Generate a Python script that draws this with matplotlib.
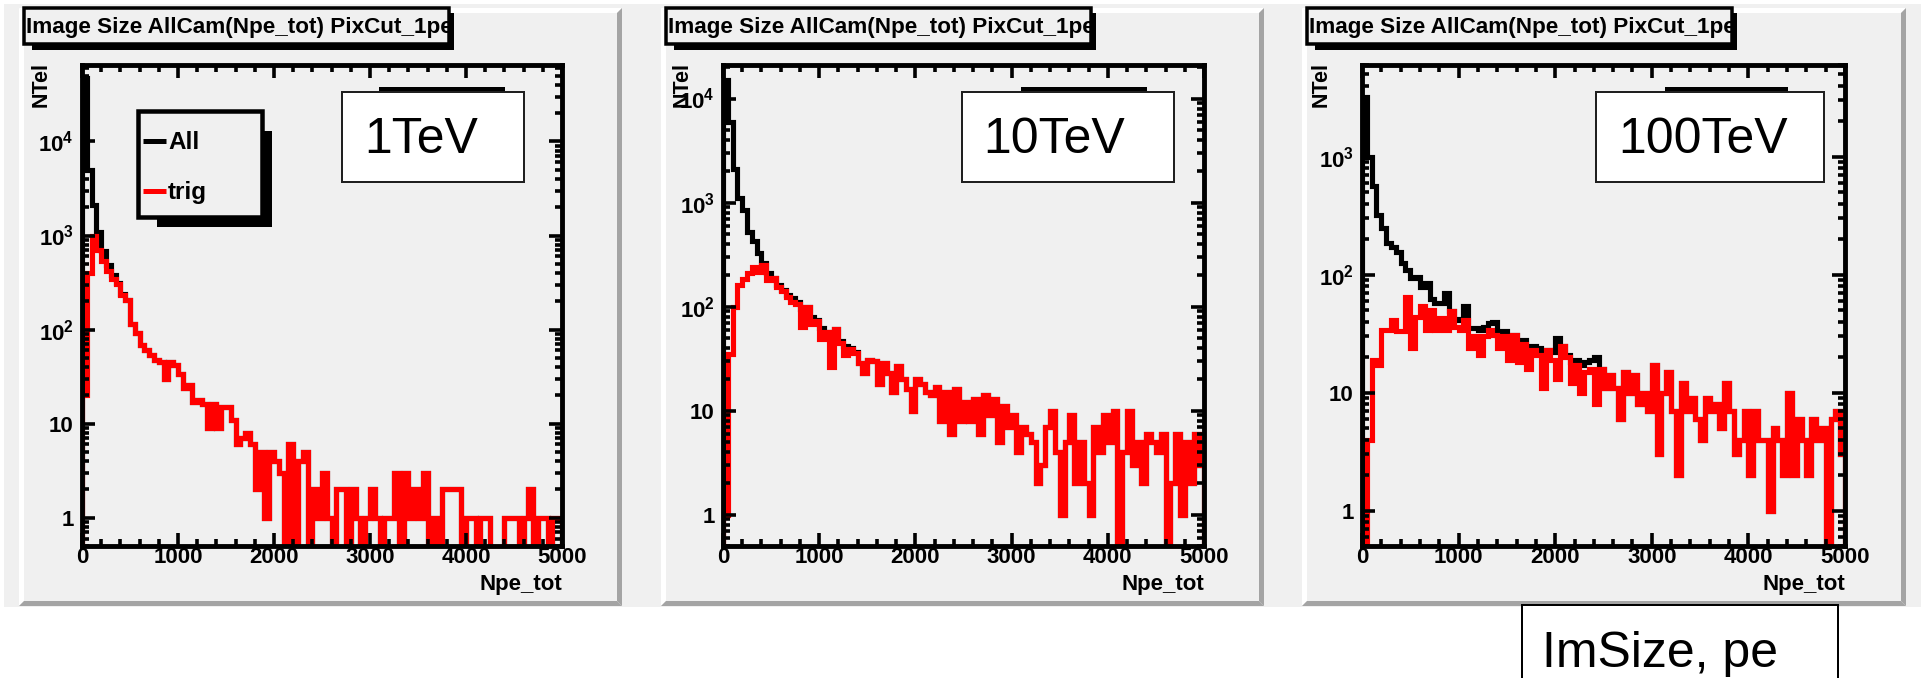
import numpy as np
import matplotlib
matplotlib.use('Agg')
import matplotlib.pyplot as plt
from matplotlib.patches import Rectangle, Polygon
from matplotlib.ticker import MultipleLocator, LogLocator, NullFormatter

plt.rcParams['font.family'] = ['Liberation Sans', 'DejaVu Sans']
plt.rcParams['mathtext.fontset'] = 'custom'
plt.rcParams['mathtext.rm'] = 'Liberation Sans:bold'
plt.rcParams['mathtext.it'] = 'Liberation Sans:bold'
plt.rcParams['mathtext.bf'] = 'Liberation Sans:bold'

# histogram binning: 100 bins of 50 pe from 0 to 5000
bin_edges = np.arange(0, 5001, 50)

title = 'Image Size AllCam(Npe_tot) PixCut_1pe'
energy_labels = ['1TeV', '10TeV', '100TeV']
legend_labels = ['All', 'trig']
x_ticks = [0, 1000, 2000, 3000, 4000, 5000]
y_ticks = [[1, 10, 100, 1000, 10000], [1, 10, 100, 1000, 10000], [1, 10, 100, 1000]]
y_tick_labels = ['1', '10', r'$\mathregular{10^{2}}$', r'$\mathregular{10^{3}}$', r'$\mathregular{10^{4}}$']
y_ranges = [(0.5, 6.5e4), (0.5, 2.1e4), (0.5, 6.0e3)]

# 1 TeV
all_1tev = [47000, 5000, 2100, 1100, 680, 480, 380, 310, 240, 205,
            115, 92, 68, 60, 54, 48, 45, 30, 45, 42,
            34, 24, 26, 17, 18, 16, 9, 16, 9, 15,
            15, 11, 6, 7, 8, 6, 2, 5, 1, 5,
            4, 3, 0, 6, 0, 4, 5, 0, 2, 1,
            3, 1, 0, 2, 2, 0, 2, 1, 0, 1,
            2, 1, 0, 1, 1, 3, 0, 3, 1, 2,
            1, 3, 0, 1, 0, 2, 2, 2, 2, 0,
            1, 1, 0, 1, 1, 0, 0, 0, 1, 1,
            1, 0, 1, 2, 0, 1, 1, 0, 1, 1]
trig_1tev = [20, 400, 1000, 700, 540, 420, 345, 305, 235, 205,
             115, 92, 68, 60, 54, 48, 45, 30, 45, 42,
             34, 24, 26, 17, 18, 16, 9, 16, 9, 15,
             15, 11, 6, 7, 8, 6, 2, 5, 1, 5,
             4, 3, 0, 6, 0, 4, 5, 0, 2, 1,
             3, 1, 0, 2, 2, 0, 2, 1, 0, 1,
             2, 1, 0, 1, 1, 3, 0, 3, 1, 2,
             1, 3, 0, 1, 0, 2, 2, 2, 2, 0,
             1, 1, 0, 1, 1, 0, 0, 0, 1, 1,
             1, 0, 1, 2, 0, 1, 1, 0, 1, 1]

# 10 TeV
all_10tev = [15000, 6000, 2100, 1100, 850, 520, 430, 330, 265, 210,
             190, 160, 145, 130, 120, 110, 95, 100, 80, 75,
             62, 57, 52, 61, 47, 42, 40, 37, 29, 23,
             31, 30, 18, 29, 23, 15, 27, 20, 16, 10,
             20, 18, 15, 14, 17, 8, 15, 6, 16, 8,
             12, 8, 13, 6, 14, 9, 13, 5, 11, 7,
             9, 4, 7, 6, 5, 2, 3, 7, 10, 4,
             1, 5, 9, 2, 5, 2, 1, 7, 4, 9,
             5, 10, 0, 4, 10, 3, 5, 2, 6, 5,
             4, 6, 0, 2, 6, 1, 5, 2, 6, 3]
trig_10tev = [1, 35, 100, 160, 185, 210, 240, 215, 250, 180,
              190, 155, 140, 125, 110, 105, 64, 100, 68, 72,
              49, 57, 26, 61, 45, 34, 39, 36, 29, 23,
              31, 30, 18, 29, 23, 15, 27, 20, 16, 10,
              20, 18, 15, 14, 17, 8, 15, 6, 16, 8,
              12, 8, 13, 6, 14, 9, 13, 5, 11, 7,
              9, 4, 7, 6, 5, 2, 3, 7, 10, 4,
              1, 5, 9, 2, 5, 2, 1, 7, 4, 9,
              5, 10, 0, 4, 10, 3, 5, 2, 6, 5,
              4, 6, 0, 2, 6, 1, 5, 2, 6, 3]

# 100 TeV
all_100tev = [3200, 1000, 560, 320, 250, 185, 170, 155, 125, 110,
              93, 95, 78, 85, 62, 58, 57, 70, 49, 42,
              41, 54, 35, 35, 34, 36, 39, 40, 30, 33,
              28, 31, 27, 28, 24, 25, 24, 22, 23, 22,
              29, 25, 21, 18, 19, 17, 18, 19, 20, 16,
              11, 14, 11, 6, 15, 10, 14, 8, 10, 7,
              17, 3, 10, 15, 7, 2, 12, 7, 9, 6,
              4, 9, 7, 8, 5, 12, 7, 3, 4, 7,
              2, 7, 4, 4, 1, 5, 4, 2, 10, 2,
              6, 4, 2, 6, 4, 5, 0, 6, 7, 3]
trig_100tev = [0, 4, 19, 17, 34, 34, 41, 33, 33, 65,
               24, 44, 54, 34, 50, 34, 43, 34, 49, 36,
               34, 41, 24, 30, 21, 30, 34, 31, 24, 30,
               19, 31, 18, 26, 16, 23, 21, 11, 23, 19,
               13, 25, 20, 12, 17, 10, 15, 16, 8, 16,
               11, 14, 11, 6, 15, 10, 14, 8, 10, 7,
               17, 3, 10, 15, 7, 2, 12, 7, 9, 6,
               4, 9, 7, 8, 5, 12, 7, 3, 4, 7,
               2, 7, 4, 4, 1, 5, 4, 2, 10, 2,
               6, 4, 2, 6, 4, 5, 0, 6, 7, 3]

all_series = [all_1tev, all_10tev, all_100tev]
trig_series = [trig_1tev, trig_10tev, trig_100tev]

# ---- layout (pixels) ----
W, H = 1925, 678
PT = 0.72  # points per pixel at dpi 100
PAD_GRAY = '#f0f0f0'
pads = [(19, 8, 622, 606), (661, 8, 1264, 606), (1302, 8, 1906, 606)]
frames = [(82, 65, 562, 546), (723, 65, 1204, 546), (1362, 65, 1845, 546)]
eboxes = [(342, 92, 524, 182, 364), (962, 92, 1174, 182, 983), (1596, 92, 1824, 182, 1618)]
ebars = [(379, 505), (1021, 1147), (1665, 1788)]

fig = plt.figure(figsize=(W / 100, H / 100), dpi=100)
fig.patch.set_facecolor('white')

# background canvas and pads with ROOT-like bevels
bg = fig.add_axes([0, 0, 1, 1], zorder=0)
bg.set_xlim(0, W)
bg.set_ylim(H, 0)
bg.axis('off')
bg.add_patch(Rectangle((4, 4), 1917, 603, fc=PAD_GRAY, ec='none'))
b = 5
for x0, y0, x1, y1 in pads:
    bg.add_patch(Polygon([(x0, y0), (x1, y0), (x1 - b, y0 + b), (x0 + b, y0 + b)], fc='white', ec='none'))
    bg.add_patch(Polygon([(x0, y0), (x0 + b, y0 + b), (x0 + b, y1 - b), (x0, y1)], fc='white', ec='none'))
    bg.add_patch(Polygon([(x0, y1), (x0 + b, y1 - b), (x1 - b, y1 - b), (x1, y1)], fc='#a4a4a4', ec='none'))
    bg.add_patch(Polygon([(x1, y0), (x1, y1), (x1 - b, y1 - b), (x1 - b, y0 + b)], fc='#a4a4a4', ec='none'))

# histograms
for i in range(3):
    x0, y0, x1, y1 = frames[i]
    ax = fig.add_axes([x0 / W, 1 - y1 / H, (x1 - x0) / W, (y1 - y0) / H], zorder=1)
    ax.set_facecolor(PAD_GRAY)
    ax.set_yscale('log', nonpositive='clip')
    ax.stairs(np.clip(np.array(all_series[i], float), 0.01, None), bin_edges, baseline=0.01,
              color='black', linewidth=3.7, joinstyle='miter')
    ax.stairs(np.clip(np.array(trig_series[i], float), 0.01, None), bin_edges, baseline=0.01,
              color='#ff0000', linewidth=3.7, joinstyle='miter')
    ax.set_xlim(0, 5000)
    ax.set_ylim(*y_ranges[i])
    ax.set_axisbelow(False)
    ax.set_xticks(x_ticks, labels=[str(t) for t in x_ticks], fontweight='bold', fontsize=16)
    ax.set_yticks(y_ticks[i], labels=y_tick_labels[:len(y_ticks[i])], fontweight='bold', fontsize=16)
    ax.xaxis.set_minor_locator(MultipleLocator(200))
    ax.yaxis.set_minor_locator(LogLocator(base=10, subs=np.arange(2, 10), numticks=20))
    ax.yaxis.set_minor_formatter(NullFormatter())
    ax.tick_params(which='both', direction='in', top=True, right=True, width=2.6, color='black')
    ax.tick_params(which='major', length=9.4)
    ax.tick_params(which='minor', length=5)
    ax.tick_params(axis='x', pad=1.0)
    ax.tick_params(axis='y', pad=6.0)
    for sp in ax.spines.values():
        sp.set_linewidth(3.5)

# overlay: title boxes, legend, labels
ov = fig.add_axes([0, 0, 1, 1], zorder=3)
ov.set_xlim(0, W)
ov.set_ylim(H, 0)
ov.axis('off')
ov.patch.set_visible(False)

renderer = fig.canvas.get_renderer()
for i in range(3):
    px0 = pads[i][0]
    tx0, tx1, ty0, ty1 = px0 + 5, px0 + 430, 8, 44
    ov.add_patch(Rectangle((tx0 + 8, ty0 + 5), tx1 - tx0 - 3, ty1 - ty0 + 1, fc='black', ec='none'))
    box = Rectangle((tx0, ty0), tx1 - tx0, ty1 - ty0, fc=PAD_GRAY, ec='black', lw=3.5 * PT)
    ov.add_patch(box)
    t = ov.text((tx0 + tx1) / 2 + 3, 33, title, ha='center', va='baseline', fontsize=16,
                fontweight='bold')
    w = t.get_window_extent(renderer).width
    t.set_fontsize(16 * 426 / w)
    t.set_clip_path(box)

    fx0, fy0, fx1, fy1 = frames[i]
    ov.text(fx0 - 41, 62, 'NTel', rotation=90, rotation_mode='anchor', ha='right', va='center',
            fontsize=15.5, fontweight='bold')
    ov.text(fx1, 590, 'Npe_tot', ha='right', va='baseline', fontsize=16, fontweight='bold')

    bx0, by0, bx1, by1, tx = eboxes[i]
    ov.add_patch(Rectangle((ebars[i][0], 87), ebars[i][1] - ebars[i][0], 6, fc='black', ec='none'))
    ov.add_patch(Rectangle((bx0, by0), bx1 - bx0, by1 - by0, fc='white', ec='#202020', lw=2 * PT))
    ov.text(tx, 153, energy_labels[i], ha='left', va='baseline', fontsize=36)

# legend (first panel only)
lx0, ly0, lx1, ly1 = 138, 111, 262, 217
ov.add_patch(Rectangle((lx0 + 19, ly0 + 20), lx1 - lx0 - 9, ly1 - ly0 - 10, fc='black', ec='none'))
ov.add_patch(Rectangle((lx0, ly0), lx1 - lx0, ly1 - ly0, fc=PAD_GRAY, ec='black', lw=4.5 * PT))
for lab, col, yl, yb in zip(legend_labels, ['black', '#ff0000'], [141, 191], [149, 199]):
    ov.plot([143, 166], [yl, yl], color=col, lw=5 * PT, solid_capstyle='butt')
    ov.text(168, yb, lab, ha='left', va='baseline', fontsize=17.5, fontweight='bold')

# annotation box below the last panel
ov.add_patch(Rectangle((1522, 605), 316, 90, fc='white', ec='black', lw=2 * PT, clip_on=False))
ov.text(1542, 667, 'ImSize, pe', ha='left', va='baseline', fontsize=36)

fig.savefig('out.png', dpi=100, facecolor='white')
